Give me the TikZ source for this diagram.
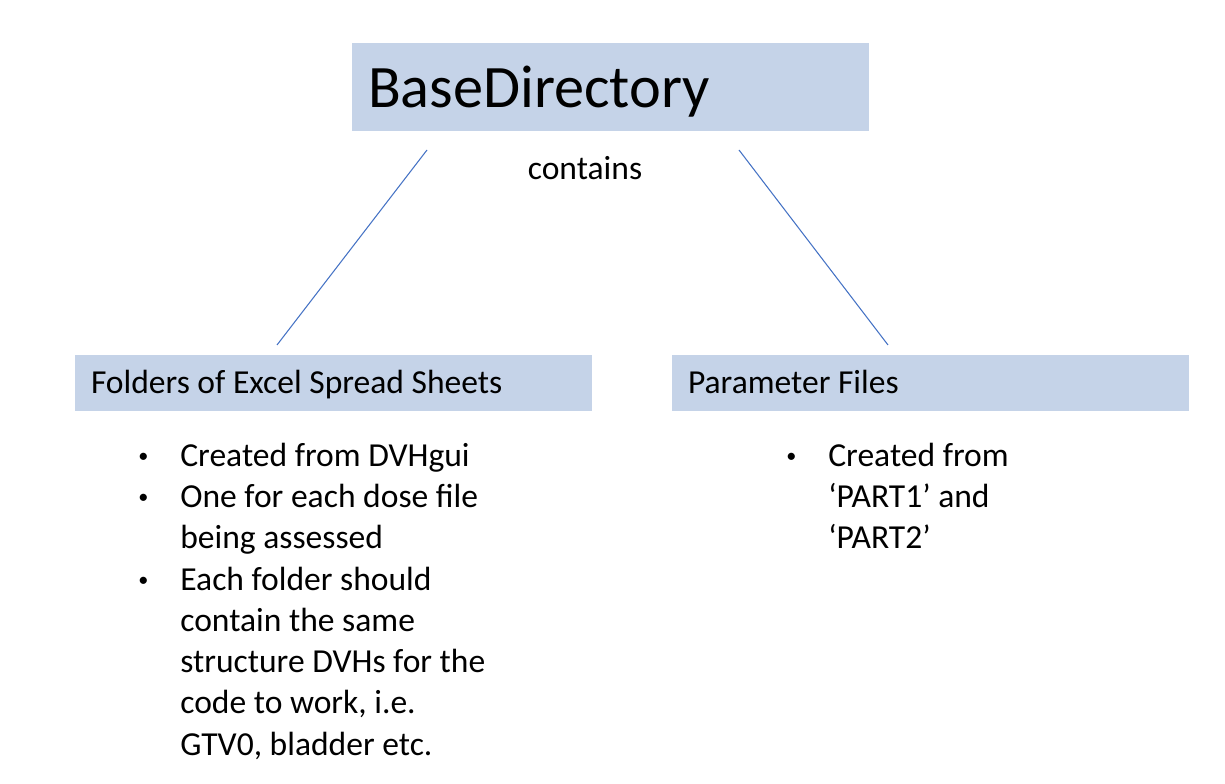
\documentclass[tikz,border=0pt]{standalone}
\usepackage{fontspec}
\setmainfont{Carlito}
\usepackage{xcolor}
\definecolor{boxblue}{HTML}{C5D3E8}
\definecolor{lineblue}{HTML}{4472C4}
\tikzset{
	dirbox/.style={rectangle,fill=boxblue,text width=9.7cm,align=flush left,inner xsep=0.32cm,inner ysep=0pt},
	bodyfont/.style={font=\fontsize{19.1}{23.5}\selectfont},
	link/.style={draw=lineblue,line width=0.6pt}
}
% bullet and hanging indent for the lists
\newcommand{\bul}{\makebox[0.84cm][l]{\raisebox{2.1pt}{\fontsize{11.5}{11.5}\selectfont\textbullet}}}
\newcommand{\ind}{\hspace*{0.84cm}}
% box title, baseline set below the box centre
\newcommand{\boxtitle}[2]{\raisebox{-#1}[0pt][0pt]{#2}}
\begin{document}
\begin{tikzpicture}
					\useasboundingbox (0,0) rectangle (24.5,15.68);
					% top box
					\node (base)[dirbox,minimum height=1.76cm,font=\fontsize{34.3}{41}\selectfont] at (12.21,13.94){\boxtitle{0.42cm}{BaseDirectory}};
					\node (contains)[bodyfont] at (11.7,12.32){contains};
					% the two folders
					\node (sheets)[dirbox,bodyfont,minimum height=1.12cm] at (6.67,8.02){\boxtitle{0.22cm}{Folders of Excel Spread Sheets}};
					\node (params)[dirbox,bodyfont,minimum height=1.12cm] at (18.61,8.02){\boxtitle{0.22cm}{Parameter Files}};
					% connectors
					\coordinate (bl) at (8.54,12.68);
					\coordinate (sl) at (5.54,8.78);
					\coordinate (br) at (14.78,12.68);
					\coordinate (pr) at (17.76,8.78);
					\draw[link] (bl) -- (sl);
					\draw[link] (br) -- (pr);
					% bullet lists
					\node (sheetlist)[bodyfont,align=left,inner sep=0pt,anchor=north west] at (2.76,6.83){
						\bul Created from DVHgui\\
						\bul One for each dose file\\
						\ind being assessed\\
						\bul Each folder should\\
						\ind contain the same\\
						\ind structure DVHs for the\\
						\ind code to work, i.e.\\
						\ind GTV0, bladder etc.
					};
					\node (paramlist)[bodyfont,align=left,inner sep=0pt,anchor=north west] at (15.72,6.83){
						\bul Created from\\
						\ind `PART1' and\\
						\ind `PART2'
					};
\end{tikzpicture}
\end{document}
